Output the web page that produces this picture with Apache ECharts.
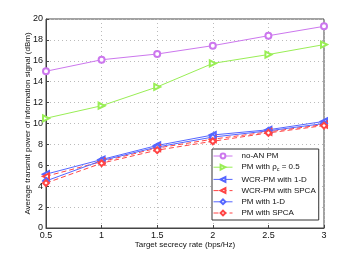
<!DOCTYPE html>
<html><head><meta charset="utf-8">
<script src="https://cdn.jsdelivr.net/npm/echarts@6/dist/echarts.min.js"></script>
<style>html,body{margin:0;padding:0;background:#fff}#c{width:359px;height:258px}</style>
</head><body><div id="c"></div>
<script>
var rates = [0.5, 1, 1.5, 2, 2.5, 3];
var noAN = [15.0, 16.1, 16.65, 17.45, 18.4, 19.3];
var pmRho = [10.5, 11.7, 13.5, 15.75, 16.6, 17.55];
var wcr1D = [5.15, 6.55, 7.9, 8.9, 9.4, 10.2];
var wcrSPCA = [4.95, 6.35, 7.65, 8.5, 9.2, 9.9];
var pm1D = [4.5, 6.45, 7.75, 8.7, 9.3, 10.0];
var pmSPCA = [4.3, 6.2, 7.45, 8.3, 9.1, 9.8];
var xTicks = [0.5, 1, 1.5, 2, 2.5, 3];
var yTicks = [0, 2, 4, 6, 8, 10, 12, 14, 16, 18, 20];

function pts(ys){ return rates.map(function(x,i){return [x, ys[i]];}); }
var FONT = 'Liberation Sans';
function mk(name, data, color, symbol, rot, dashed){
  return {name:name, type:'line', data:pts(data), symbol:symbol, symbolSize:6, symbolRotate:rot,
    lineStyle:{color:color, width:1, type: dashed ? [5,3] : 'solid'},
    itemStyle:{color:color, borderColor:color, borderWidth:0.8}, animation:false};
}
var chart = echarts.init(document.getElementById('c'));
chart.setOption({
  backgroundColor:'#fff',
  animation:false,
  grid:{left:46, right:35, top:19, bottom:30, show:true, borderColor:'#444', borderWidth:1},
  legend:{
    orient:'vertical', left:212, top:149,
    backgroundColor:'#fff', borderColor:'#333', borderWidth:1, padding:[3,3,3,1],
    itemWidth:19, itemHeight:6, itemGap:3.2,
    itemStyle:{borderWidth:0.8}, lineStyle:{width:1},
    textStyle:{fontFamily:FONT, fontSize:8, color:'#111', padding:[0,0,0,4],
      rich:{sub:{fontSize:5.5, verticalAlign:'bottom', padding:[4,0,0,0], fontFamily:FONT}}},
    formatter:function(n){ return n==='PM with ρc = 0.5' ? 'PM with ρ{sub|c} = 0.5' : n; },
    data:['no-AN PM','PM with ρc = 0.5','WCR-PM with 1-D','WCR-PM with SPCA','PM with 1-D','PM with SPCA']
  },
  xAxis:{type:'value', min:0.5, max:3, interval:0.5,
    name:'Target secrecy rate (bps/Hz)', nameLocation:'middle', nameGap:12.5, nameMoveOverlap:false,
    nameTextStyle:{fontFamily:FONT, fontSize:8, color:'#111'},
    axisLine:{lineStyle:{color:'#444'}}, axisTick:{inside:true, length:3, lineStyle:{color:'#444'}},
    axisLabel:{fontFamily:FONT, fontSize:9, color:'#111', margin:3},
    splitLine:{show:true, lineStyle:{color:'#bbb', type:[1,3]}}},
  yAxis:{type:'value', min:0, max:20, interval:2,
    name:'Average transmit power of information signal (dBm)', nameLocation:'middle', nameGap:14, nameMoveOverlap:false,
    nameTextStyle:{fontFamily:FONT, fontSize:8, color:'#111'},
    axisLine:{lineStyle:{color:'#444'}}, axisTick:{inside:true, length:3, lineStyle:{color:'#444'}},
    axisLabel:{fontFamily:FONT, fontSize:9, color:'#111', margin:3},
    splitLine:{show:true, lineStyle:{color:'#bbb', type:[1,3]}}},
  series:[
    mk('no-AN PM', noAN, '#cc77ee', 'emptyCircle', 0, false),
    mk('PM with ρc = 0.5', pmRho, '#99ee55', 'emptyTriangle', -90, false),
    mk('WCR-PM with 1-D', wcr1D, '#5566ff', 'emptyTriangle', 90, false),
    mk('WCR-PM with SPCA', wcrSPCA, '#ff4444', 'emptyTriangle', 90, true),
    mk('PM with 1-D', pm1D, '#5566ff', 'emptyDiamond', 0, false),
    mk('PM with SPCA', pmSPCA, '#ff4444', 'emptyDiamond', 0, true)
  ]
});
</script></body></html>
